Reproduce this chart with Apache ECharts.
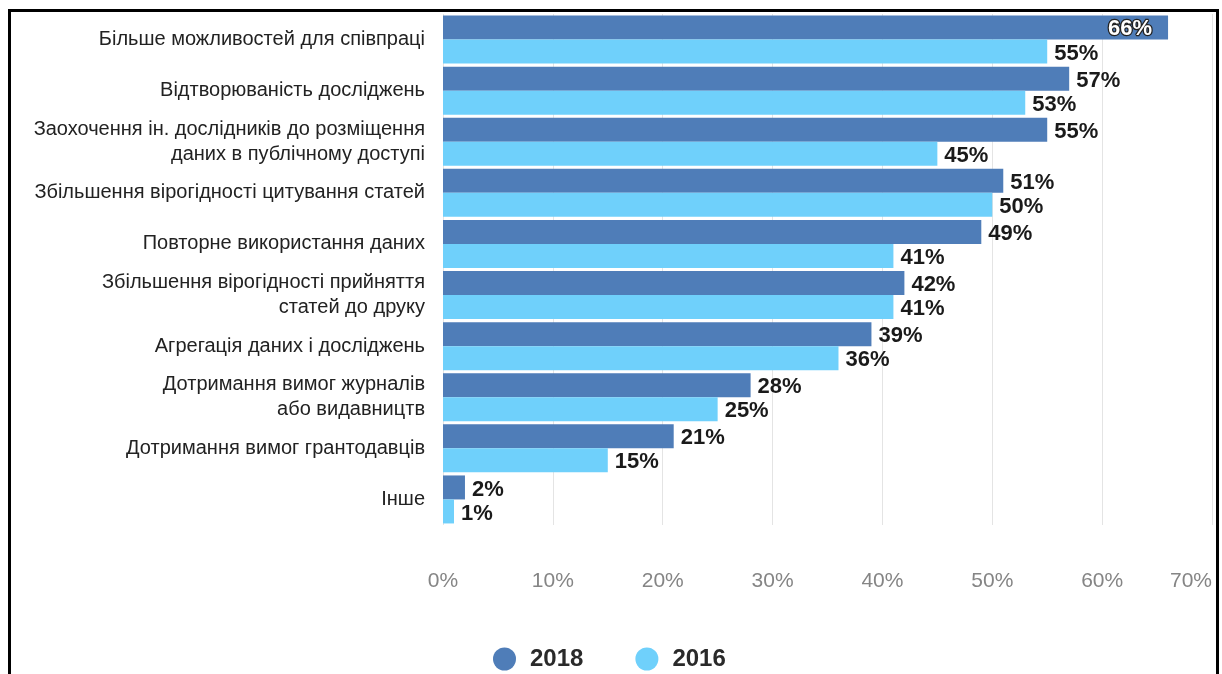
<!DOCTYPE html>
<html>
<head>
<meta charset="utf-8">
<script src="https://cdn.jsdelivr.net/npm/echarts@6/dist/echarts.min.js"></script>
<style>
  html, body { margin: 0; padding: 0; background: #fff; }
  #chart { width: 1222px; height: 674px; }
</style>
</head>
<body>
<div id="chart"></div>
<script>
// Reasons for sharing research data, survey years 2018 and 2016 (% of respondents)
const categories = [
  'Більше можливостей для співпраці',
  'Відтворюваність досліджень',
  'Заохочення ін. дослідників до розміщення\nданих в публічному доступі',
  'Збільшення вірогідності цитування статей',
  'Повторне використання даних',
  'Збільшення вірогідності прийняття\nстатей до друку',
  'Агрегація даних і досліджень',
  'Дотримання вимог журналів\nабо видавництв',
  'Дотримання вимог грантодавців',
  'Інше'
];
const values2018 = [66, 57, 55, 51, 49, 42, 39, 28, 21, 2];
const values2016 = [55, 53, 45, 50, 41, 41, 36, 25, 15, 1];
const seriesNames = ['2018', '2016'];
const axisMin = 0, axisMax = 70, axisStep = 10;

const colors = ['#4f7db8', '#6fd0fb'];
const font = 'Liberation Sans, Arial, sans-serif';

const valueLabel = {
  show: true,
  position: 'right',
  distance: 7,
  offset: [0, 2],
  formatter: '{c}%',
  color: '#1a1a1a',
  fontFamily: font,
  fontWeight: 'bold',
  fontSize: 22
};

// the longest bar has no room to its right, so its label sits inside the bar end
const data2018 = values2018.map((v, i) => i === 0 ? {
  value: v,
  label: {
    position: 'insideRight',
    distance: 16,
    offset: [0, 1],
    color: '#ffffff',
    textBorderColor: '#222',
    textBorderWidth: 2.5
  }
} : v);

const chart = echarts.init(document.getElementById('chart'), null, { renderer: 'canvas' });
chart.setOption({
  animation: false,
  backgroundColor: '#ffffff',
  color: colors,
  grid: {
    left: 443, right: 10, top: 14, bottom: 149,
    containLabel: false,
    outerBoundsMode: 'none'
  },
  legend: {
    data: seriesNames,
    left: 488,
    top: 642,
    icon: 'circle',
    itemWidth: 23,
    itemHeight: 23,
    itemGap: 52,
    textStyle: {
      color: '#2a2a2a',
      fontFamily: font,
      fontWeight: 'bold',
      fontSize: 24,
      padding: [0, 0, 0, 9]
    }
  },
  xAxis: {
    type: 'value',
    min: axisMin,
    max: axisMax,
    interval: axisStep,
    axisLine: { show: false },
    axisTick: { show: false },
    splitLine: { show: true, lineStyle: { color: '#e4e4e4', width: 1 } },
    axisLabel: {
      formatter: '{value}%',
      margin: 46,
      color: '#858585',
      fontFamily: font,
      fontSize: 21,
      alignMaxLabel: 'right'
    }
  },
  yAxis: {
    type: 'category',
    data: categories,
    inverse: true,
    axisLine: { show: false },
    axisTick: { show: false },
    axisLabel: {
      margin: 18,
      color: '#222',
      fontFamily: font,
      fontSize: 20,
      lineHeight: 25,
      align: 'right'
    }
  },
  series: [
    {
      name: seriesNames[0],
      type: 'bar',
      data: data2018,
      barWidth: 24,
      barGap: '0%',
      label: valueLabel
    },
    {
      name: seriesNames[1],
      type: 'bar',
      data: values2016,
      barWidth: 24,
      barGap: '0%',
      label: valueLabel
    }
  ],
  graphic: [{
    type: 'rect',
    silent: true,
    shape: { x: 9.5, y: 10.5, width: 1208, height: 720 },
    style: { fill: 'none', stroke: '#000', lineWidth: 3 }
  }]
});
</script>
</body>
</html>
